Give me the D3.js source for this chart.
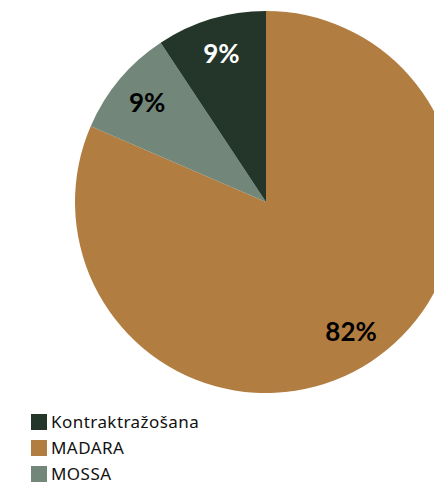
<!DOCTYPE html>
<html>
<head>
<meta charset="utf-8">
<script src="https://cdn.jsdelivr.net/npm/d3@7"></script>
<style>
  html, body { margin: 0; padding: 0; background: #fff; overflow: hidden; }
  svg { display: block; }
</style>
</head>
<body>
<svg id="chart"></svg>
<script>
// dati
const categories = ['Kontraktražošana', 'MADARA', 'MOSSA'];
const values = [9.3, 81.5, 9.2];
const colors = ['#243629', '#b27d40', '#72877a'];
const labelColors = ['#fff', '#000', '#000'];

const width = 434, height = 484;
const cx = 266, cy = 202, radius = 191;

const svg = d3.select('#chart').attr('width', width).attr('height', height);

// secība pulksteņrādītāja virzienā no augšas: MADARA, MOSSA, Kontraktražošana
const order = [1, 2, 0];
const pie = d3.pie().sort(null).value(i => values[i]);
const arcs = pie(order);

const arc = d3.arc().innerRadius(0).outerRadius(radius);
const labelArc = d3.arc().innerRadius(155).outerRadius(155);

const g = svg.append('g').attr('transform', `translate(${cx},${cy})`);

g.selectAll('path')
  .data(arcs)
  .join('path')
  .attr('d', arc)
  .attr('fill', d => colors[d.data]);

g.selectAll('text')
  .data(arcs)
  .join('text')
  .attr('transform', d => `translate(${labelArc.centroid(d)})`)
  .attr('text-anchor', 'middle')
  .attr('dy', '0.36em')
  .attr('font-family', 'Lato, sans-serif')
  .attr('font-weight', 'bold')
  .attr('font-size', 26)
  .attr('fill', d => labelColors[d.data])
  .text(d => Math.round(values[d.data]) + '%');

// leģenda
const legend = svg.append('g').attr('transform', 'translate(31,414)');
const rows = legend.selectAll('g')
  .data(categories)
  .join('g')
  .attr('transform', (d, i) => `translate(0,${i * 26})`);
rows.append('rect')
  .attr('width', 16)
  .attr('height', 16)
  .attr('fill', (d, i) => colors[i]);
rows.append('text')
  .attr('x', 20)
  .attr('y', 8)
  .attr('dy', '0.36em')
  .attr('font-family', '"Noto Sans", sans-serif')
  .attr('font-size', 17)
  .attr('letter-spacing', 0.45)
  .attr('fill', '#111')
  .text(d => d);
</script>
</body>
</html>
